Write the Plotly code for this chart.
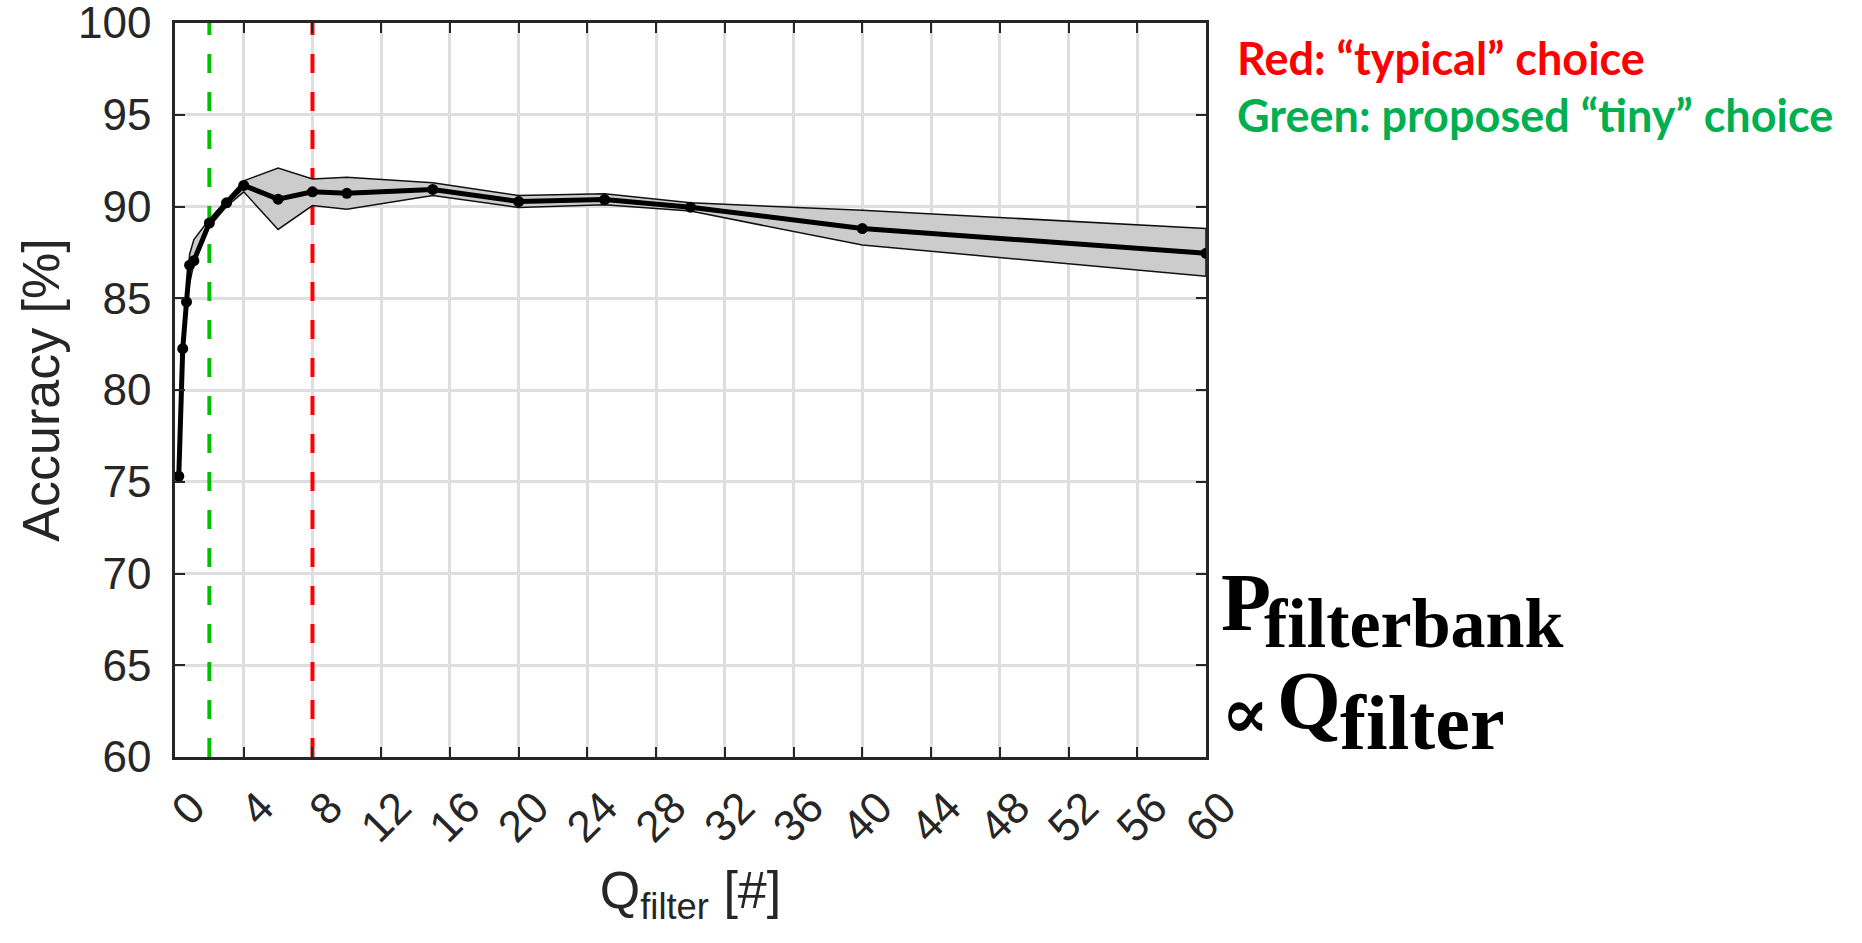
import plotly.graph_objects as go

# Filter-bank quality factor sweep: mean accuracy with min/max spread
q_filter = [0.22, 0.45, 0.67, 0.85, 1.1, 2, 3, 4, 6, 8, 10, 15, 20, 25, 30, 40, 60]
acc_mean = [75.3, 82.25, 84.8, 86.8, 87.05, 89.1, 90.2, 91.15, 90.4, 90.8, 90.72,
            90.93, 90.27, 90.38, 89.96, 88.8, 87.45]
acc_upper = [75.4, 82.35, 85.0, 87.4, 88.2, 89.3, 90.35, 91.4, 92.1, 91.5, 91.6,
             91.3, 90.6, 90.7, 90.2, 89.8, 88.8]
acc_lower = [75.2, 82.15, 84.6, 85.8, 86.9, 88.9, 90.0, 90.8, 88.75, 90.05, 89.85,
             90.6, 89.95, 90.1, 89.75, 87.9, 86.2]

q_typical = 8   # red marker line
q_tiny = 2      # green marker line

x_ticks = list(range(0, 61, 4))
y_ticks = list(range(60, 101, 5))

FIG_W, FIG_H = 1862, 943
M_L, M_R, M_T, M_B = 175, 656, 23, 186
PW, PH = FIG_W - M_L - M_R, FIG_H - M_T - M_B


def px(x):
    return (x - M_L) / PW


def py(y):
    return 1 - (y - M_T) / PH


AX_COLOR = "#262626"
fig = go.Figure()

# vertical reference lines
for q, col in [(q_tiny, "#00c000"), (q_typical, "#ff0000")]:
    fig.add_trace(go.Scatter(
        x=[q, q], y=[60, 100], mode="lines",
        line=dict(color=col, width=4, dash="19px,19px"),
        hoverinfo="skip", showlegend=False))

# spread band
fig.add_trace(go.Scatter(
    x=q_filter + q_filter[::-1],
    y=acc_upper + acc_lower[::-1],
    mode="lines", fill="toself", fillcolor="#cccccc",
    line=dict(color="#111111", width=1.5),
    hoverinfo="skip", showlegend=False))

# mean accuracy
fig.add_trace(go.Scatter(
    x=q_filter, y=acc_mean, mode="lines+markers",
    line=dict(color="black", width=5),
    marker=dict(color="black", size=11),
    showlegend=False))

tick_font = dict(family="Liberation Sans, Arial, sans-serif", size=44, color=AX_COLOR)

fig.update_xaxes(
    range=[0, 60], tickvals=x_ticks, ticktext=[str(v) for v in x_ticks],
    tickangle=-45, ticklabelshift=17, ticklabelstandoff=4,
    ticks="inside", ticklen=10, tickwidth=2, tickcolor=AX_COLOR,
    showline=True, linecolor=AX_COLOR, linewidth=2.5, mirror="ticks",
    showgrid=True, gridcolor="#dedede", gridwidth=2.5, zeroline=False,
    tickfont=tick_font, ticklabeloverflow="allow", automargin=False,
    title=dict(text="Q<sub>filter</sub> [#]", standoff=22,
               font=dict(family="Liberation Sans, Arial, sans-serif", size=52, color=AX_COLOR)))

fig.update_yaxes(
    range=[60, 100], tickvals=y_ticks,
    ticks="inside", ticklen=10, tickwidth=2, tickcolor=AX_COLOR,
    ticklabelstandoff=12, ticklabeloverflow="allow", automargin=False,
    showline=True, linecolor=AX_COLOR, linewidth=2.5, mirror="ticks",
    showgrid=True, gridcolor="#dedede", gridwidth=2.5, zeroline=False,
    tickfont=tick_font,
    title=dict(text="Accuracy [%]", standoff=2,
               font=dict(family="Liberation Sans, Arial, sans-serif", size=52, color=AX_COLOR)))

anns = []
label_font = "Lato, Carlito, Calibri, sans-serif"
anns.append(dict(text="<b>Red: \u201ctypical\u201d choice</b>", x=px(1235), y=py(58),
                 font=dict(family=label_font, size=45, color="#ff0000")))
anns.append(dict(text="<b>Green: proposed \u201ctiny\u201d choice</b>", x=px(1235), y=py(115),
                 font=dict(family=label_font, size=45, color="#00b050")))

serif = "Liberation Serif, DejaVu Serif, serif"
anns.append(dict(text="<b>P</b>", x=px(1219), y=py(602), font=dict(family=serif, size=82, color="black")))
anns.append(dict(text="<b>filterbank</b>", x=px(1262), y=py(623), font=dict(family=serif, size=70, color="black")))
anns.append(dict(text="<b>\u221d</b>", x=px(1219), y=py(712), font=dict(family="DejaVu Serif, serif", size=72, color="black")))
anns.append(dict(text="<b>Q</b>", x=px(1275), y=py(700), font=dict(family=serif, size=82, color="black")))
anns.append(dict(text="<b>filter</b>", x=px(1338), y=py(722), font=dict(family=serif, size=78, color="black")))

for a in anns:
    a.update(xref="paper", yref="paper", xanchor="left", yanchor="middle", showarrow=False)

fig.update_layout(
    width=FIG_W, height=FIG_H,
    margin=dict(l=M_L, r=M_R, t=M_T, b=M_B, pad=0, autoexpand=False),
    plot_bgcolor="white", paper_bgcolor="white",
    annotations=anns,
)

fig.write_html("out.html")
